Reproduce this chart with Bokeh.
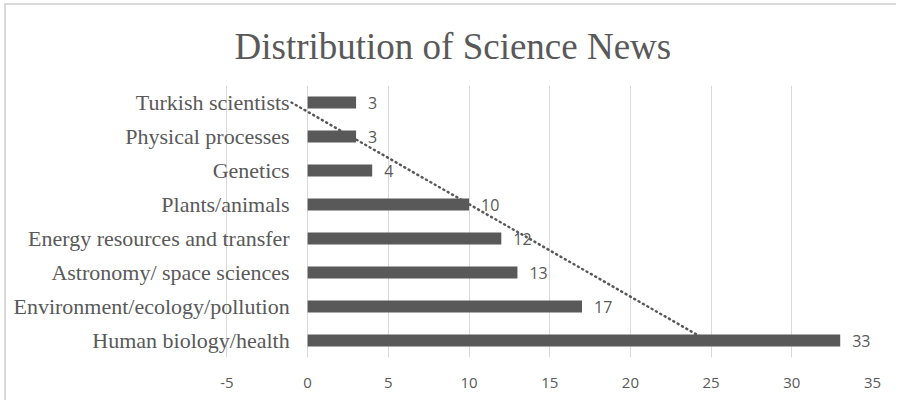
from bokeh.plotting import figure
from bokeh.models import ColumnDataSource, FactorRange, Range1d, FixedTicker, Title
from bokeh.core.properties import value
from bokeh.embed import file_html
from bokeh.resources import INLINE

# Science news topics (bottom to top) and number of news items in each
categories = [
    "Human biology/health",
    "Environment/ecology/pollution",
    "Astronomy/ space sciences",
    "Energy resources and transfer",
    "Plants/animals",
    "Genetics",
    "Physical processes",
    "Turkish scientists",
]
counts = [33, 17, 13, 12, 10, 4, 3, 3]
x_ticks = [-5, 0, 5, 10, 15, 20, 25, 30, 35]
x_tick_labels = ["-5", "0", "5", "10", "15", "20", "25", "30", "35"]
title_text = "Distribution of Science News"

GREY = "#595959"
GRID = "#d9d9d9"
SERIF = "Liberation Serif"
SANS = "Open Sans"

# linear trend of the counts over category position (1 = bottom category)
n = len(counts)
idx = list(range(1, n + 1))
mx = sum(idx) / n
my = sum(counts) / n
slope = sum((i - mx) * (c - my) for i, c in zip(idx, counts)) / sum((i - mx) ** 2 for i in idx)
trend = [my + slope * (i - mx) for i in idx]

src = ColumnDataSource(dict(cat=categories, count=counts, label=[str(c) for c in counts],
                            zero=[0] * n))

p = figure(
    width=892, height=397,
    x_range=Range1d(-18.66, 35),
    y_range=FactorRange(factors=categories, range_padding=0),
    output_backend="svg", toolbar_location=None,
    min_border_left=0, min_border_right=26, min_border_top=80, min_border_bottom=45,
)
p.styles = {
    "margin-left": "4px", "margin-top": "3px",
    "border-left": f"2px solid {GRID}", "border-top": f"2px solid {GRID}",
}
p.outline_line_color = None
p.background_fill_color = "white"
p.border_fill_color = "white"

# chart title, placed from the left edge so it sits over the whole chart
p.title = Title(text=title_text, align="left", offset=228, vertical_align="bottom",
                text_font=SERIF, text_font_size="37px", text_font_style="normal",
                text_color=GREY, standoff=37)

# vertical gridlines and bottom value axis
p.xaxis.ticker = FixedTicker(ticks=x_ticks)
p.xaxis.major_label_overrides = dict(zip(x_ticks, x_tick_labels))
p.xgrid.ticker = FixedTicker(ticks=x_ticks)
p.xgrid.grid_line_color = GRID
p.xgrid.grid_line_width = 1
p.ygrid.grid_line_color = None
p.xaxis.axis_line_color = None
p.xaxis.major_tick_line_color = None
p.xaxis.minor_tick_line_color = None
p.xaxis.major_label_text_font = SANS
p.xaxis.major_label_text_font_size = "15px"
p.xaxis.major_label_text_color = GREY
p.xaxis.major_label_standoff = 14
p.yaxis.visible = False

# bars
p.hbar(y="cat", right="count", left=0, height=0.35, source=src,
       fill_color=GREY, line_color=None)

# category names sit beside the zero line
p.text(x="zero", y="cat", text="cat", source=src, x_offset=-18,
       text_align="right", text_baseline="middle",
       text_font=value(SERIF), text_font_size="22px", text_color=GREY)

# value labels at the end of each bar
p.text(x="count", y="cat", text="label", source=src, x_offset=12,
       text_align="left", text_baseline="middle",
       text_font=value(SANS), text_font_size="16px", text_color=GREY)

# dotted linear trendline from the top category to the bottom one
p.line(x=[trend[-1], trend[0]], y=[categories[-1], categories[0]],
       line_color=GREY, line_width=2.5, line_dash="1 4", line_cap="round")

open("out.html", "w").write(file_html(p, INLINE))
